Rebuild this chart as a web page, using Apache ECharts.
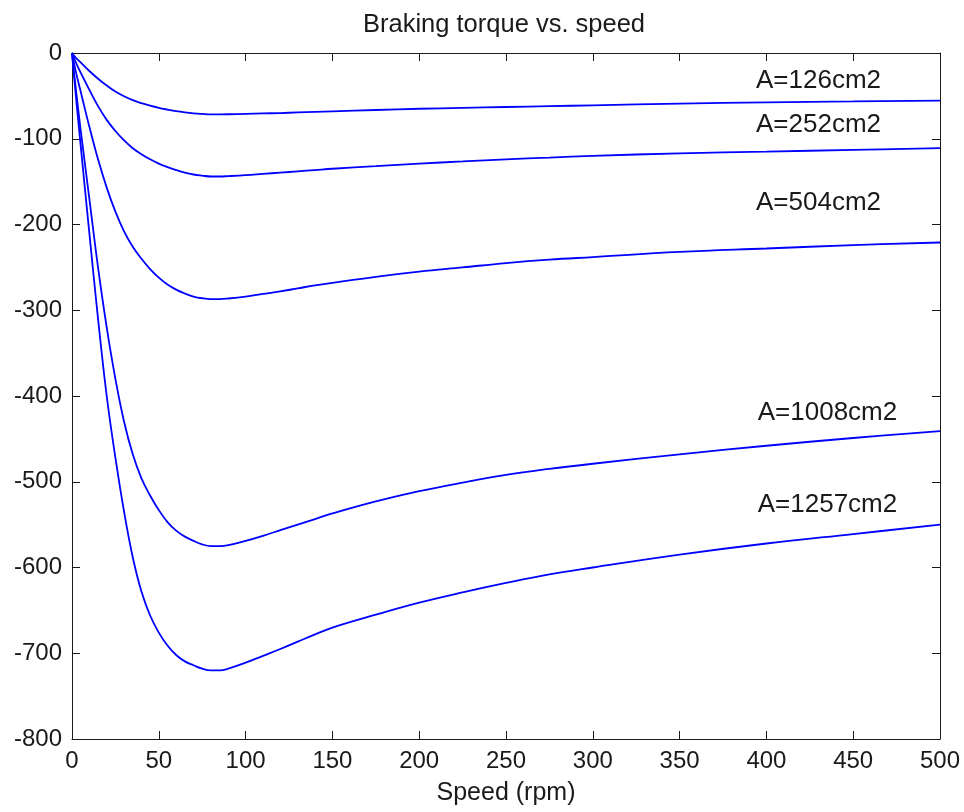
<!DOCTYPE html>
<html>
<head>
<meta charset="utf-8">
<script src="https://cdn.jsdelivr.net/npm/echarts@6/dist/echarts.min.js"></script>
<style>
html,body{margin:0;padding:0;background:#fff;}
#chart{width:964px;height:812px;}
</style>
</head>
<body>
<div id="chart"></div>
<script>
// Speed (rpm)
const speed = [0, 2, 5, 10, 15, 20, 25, 30, 35, 40, 45, 50, 55, 60, 65, 70, 75, 80, 85, 90, 100, 110, 120, 130, 140, 150, 175, 200, 225, 250, 275, 300, 350, 400, 450, 500];
// Braking torque for each pole area
const torqueA126  = [0, -5, -11, -21, -30, -38, -45, -50.5, -55, -58.5, -61.5, -64, -66, -67.8, -69.2, -70.3, -71, -71.5, -71.5, -71.4, -71, -70.5, -70, -69.3, -68.6, -68, -66.5, -65, -64, -63, -62, -61, -59, -57.5, -56.5, -55.5];
const torqueA252  = [0, -10, -23, -43, -62, -78, -91, -102, -111, -118, -124, -129, -133, -136.5, -139.5, -141.7, -143, -144, -144, -143.6, -142.5, -141, -139.5, -138, -136.5, -135, -132, -129, -126.5, -124, -122, -120, -117, -115, -113, -111];
const torqueA504  = [0, -20, -45, -86, -124, -157, -185, -208, -226, -240, -252, -262, -270, -276, -280.5, -284, -286, -287, -287, -286.3, -284, -281, -278, -274.5, -271, -268, -261, -255, -250, -245, -241, -238, -232, -228, -224, -221];
const torqueA1008 = [0, -38, -90, -170, -250, -320, -380, -430, -468, -496, -516, -533, -547, -557, -564, -569, -573, -575, -575, -574, -569, -563, -556.5, -550, -543.5, -537, -523, -511, -501, -492, -485, -479, -468, -458, -449, -441];
const torqueA1257 = [0, -45, -108, -210, -310, -400, -472, -535, -588, -628, -656, -676, -691, -702, -709.5, -714, -718, -720, -720, -718, -711, -703, -695, -686.5, -678, -670, -655, -641, -629, -618, -608, -600, -585, -572, -561, -550];

const curveNames = ['A=126cm2', 'A=252cm2', 'A=504cm2', 'A=1008cm2', 'A=1257cm2'];
const curves = [torqueA126, torqueA252, torqueA504, torqueA1008, torqueA1257];

// Text annotations (data coordinates of left edge / vertical centre)
const labelX = [394, 394, 394, 395, 395];
const labelY = [-33, -84, -175, -420, -527];

const xTicks = {min: 0, max: 500, interval: 50};
const yTicks = {min: -800, max: 0, interval: 100};

const FONT = 'Liberation Sans';
const INK = '#1a1a1a';

const chart = echarts.init(document.getElementById('chart'), null, {renderer: 'canvas'});

function axisBase(extra) {
  return Object.assign({
    type: 'value',
    axisLine: {show: true, onZero: false, lineStyle: {color: INK, width: 1}},
    axisTick: {show: true, inside: true, length: 8, lineStyle: {color: INK, width: 1}},
    splitLine: {show: false},
    axisLabel: {show: true, fontFamily: FONT, fontSize: 24, color: INK, margin: 10}
  }, extra);
}

const series = curves.map((vals, i) => ({
  name: curveNames[i],
  type: 'line',
  data: speed.map((s, j) => [s, vals[j]]),
  showSymbol: false,
  smooth: 0.4,
  lineStyle: {color: '#0000ff', width: 1.8},
  itemStyle: {color: '#0000ff'},
  z: 3
}));

series.push({
  type: 'scatter',
  symbolSize: 0,
  itemStyle: {opacity: 1},
  data: curveNames.map((n, i) => ({name: n, value: [labelX[i], labelY[i]]})),
  label: {
    show: true,
    position: 'right',
    distance: 0,
    formatter: p => p.name,
    fontFamily: FONT,
    fontSize: 26,
    color: INK,
    opacity: 1
  },
  silent: true,
  z: 4
});

chart.setOption({
  animation: false,
  backgroundColor: '#ffffff',
  title: {
    text: 'Braking torque vs. speed',
    left: 499,
    textAlign: 'center',
    top: 7,
    textStyle: {fontFamily: FONT, fontSize: 25.5, fontWeight: 'normal', color: INK}
  },
  grid: {left: 72, right: 24, top: 53, bottom: 73, containLabel: false},
  xAxis: [
    axisBase(Object.assign({}, xTicks, {
      position: 'bottom',
      name: 'Speed (rpm)',
      nameLocation: 'middle',
      nameGap: 42,
      nameTextStyle: {fontFamily: FONT, fontSize: 25, color: INK}
    })),
    axisBase(Object.assign({}, xTicks, {position: 'top', axisLabel: {show: false}}))
  ],
  yAxis: [
    axisBase(Object.assign({}, yTicks, {position: 'left'})),
    axisBase(Object.assign({}, yTicks, {position: 'right', axisLabel: {show: false}}))
  ],
  series: series
});
</script>
</body>
</html>
